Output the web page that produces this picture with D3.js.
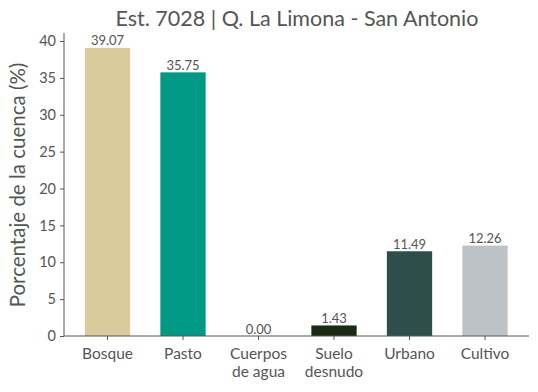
<!DOCTYPE html>
<html><head><meta charset="utf-8">
<script src="https://cdn.jsdelivr.net/npm/d3@7"></script>
<style>body{margin:0;background:#fff}svg{display:block}text{font-family:Lato,"Open Sans",sans-serif;fill:#555}</style>
</head><body>
<svg id="c" width="538" height="392"></svg>
<script>
const categories = [["Bosque"],["Pasto"],["Cuerpos","de agua"],["Suelo","desnudo"],["Urbano"],["Cultivo"]];
const values = [39.07, 35.75, 0.00, 1.43, 11.49, 12.26];
const colors = ["#d9cb9c","#009985","#1e6e80","#1b2a12","#2e4e4c","#bcc2c5"];
const yTicks = [0,5,10,15,20,25,30,35,40];
const title = "Est. 7028 | Q. La Limona - San Antonio";
const yLabel = "Porcentaje de la cuenca (%)";

(function(){
const svg = d3.select("#c");
const mLeft = 64, mRight = 529, mTop = 33, mBottom = 336;
const keys = categories.map(c => c.join(" "));
const x = d3.scaleBand().domain(keys).range([69.75, 522.75]).paddingInner(0.4).paddingOuter(0.2);
const y = d3.scaleLinear().domain([0, 40]).range([mBottom, 41]);

svg.selectAll("rect.bar").data(values).join("rect")
  .attr("x", (d,i) => x(keys[i])).attr("width", x.bandwidth())
  .attr("y", d => y(d)).attr("height", d => y(0) - y(d))
  .attr("fill", (d,i) => colors[i]);

svg.selectAll("text.val").data(values).join("text")
  .attr("x", (d,i) => x(keys[i]) + x.bandwidth()/2)
  .attr("y", d => y(d) - 2.5)
  .attr("text-anchor","middle").attr("font-size", 13)
  .text(d => d.toFixed(2));

const ya = svg.append("g").attr("transform", `translate(${mLeft},0)`)
  .call(d3.axisLeft(y).tickValues(yTicks).tickSize(4).tickPadding(4).tickSizeOuter(0));
ya.select(".domain").attr("d", `M0,${mTop}V${mBottom}`);
const xa = svg.append("g").attr("transform", `translate(0,${mBottom})`)
  .call(d3.axisBottom(x).tickSize(4).tickSizeOuter(0).tickFormat(() => ""));
xa.select(".domain").attr("d", `M${mLeft},0H${mRight}`);
svg.selectAll(".domain, .tick line").attr("stroke", "#555").attr("stroke-width", 1);
ya.selectAll("text").attr("font-size", 14.5).attr("fill","#555").style("font-family","Lato,sans-serif");

xa.selectAll(".tick").each(function(k, i) {
  const t = d3.select(this).append("text").attr("text-anchor","middle")
    .attr("font-size", 15.5).attr("fill","#555").style("font-family","Lato,sans-serif");
  categories[i].forEach((line, j) => t.append("tspan").attr("x", 0).attr("y", 23 + j*18).text(line));
});

svg.append("text").attr("x", 297).attr("y", 26).attr("text-anchor","middle")
  .attr("font-size", 21.5).text(title);
svg.append("text").attr("transform", `translate(25,185) rotate(-90)`)
  .attr("text-anchor","middle").attr("font-size", 20.5).text(yLabel);
})();
</script>
</body></html>
